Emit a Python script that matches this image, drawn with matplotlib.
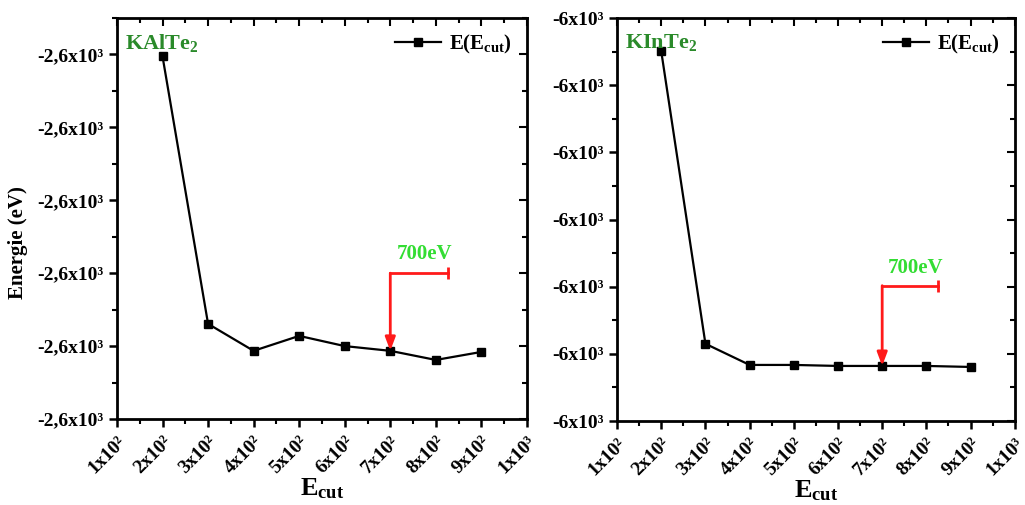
import numpy as np
import matplotlib
matplotlib.use("Agg")
import matplotlib.pyplot as plt
from matplotlib.ticker import MultipleLocator, FuncFormatter

plt.rcParams['font.family'] = ['Liberation Serif', 'DejaVu Serif']
plt.rcParams['font.weight'] = 'bold'
plt.rcParams['axes.labelweight'] = 'bold'
plt.rcParams['mathtext.fontset'] = 'custom'
plt.rcParams['mathtext.rm'] = 'Liberation Serif:weight=bold'
plt.rcParams['mathtext.it'] = 'Liberation Serif:weight=bold'
plt.rcParams['mathtext.bf'] = 'Liberation Serif:weight=bold'
plt.rcParams['mathtext.default'] = 'rm'

# data
ecut = [200, 300, 400, 500, 600, 700, 800, 900]
e_kalte2 = [-2599.005, -2599.739, -2599.813, -2599.772, -2599.800, -2599.813, -2599.838, -2599.816]
e_kinte2 = [-6000.099, -6000.970, -6001.033, -6001.033, -6001.036, -6001.036, -6001.036, -6001.039]
xticks = [100, 200, 300, 400, 500, 600, 700, 800, 900, 1000]
xticklabels = ['1x10²', '2x10²', '3x10²', '4x10²', '5x10²',
               '6x10²', '7x10²', '8x10²', '9x10²', '1x10³']

def fmt_kal(v, pos):
    return ('%.1f' % (v / 1000)).replace('.', ',') + 'x10³'

def fmt_kin(v, pos):
    return '%.0fx10³' % (v / 1000)

fig = plt.figure(figsize=(10.25, 5.05), dpi=100)
ax1 = fig.add_axes([0.1141, 0.1703, 0.400, 0.794])
ax2 = fig.add_axes([0.602, 0.1663, 0.388, 0.798])

red = '#ff1a1a'
lgreen = '#33dd33'
dgreen = '#2a8a2a'

def setup(ax, ylim, ystep, fmt, name, data, arrow_y, text_y):
    ax.plot(ecut, data, color='black', lw=1.6, marker='s', ms=5.5,
            label='E(E$_{\\mathbf{cut}}$)')
    ax.set_xlim(100, 1000)
    ax.set_ylim(*ylim)
    ax.set_xticks(xticks)
    ax.set_xticklabels(xticklabels, rotation=45, fontsize=14, fontweight='bold')
    ax.xaxis.set_minor_locator(MultipleLocator(50))
    ax.yaxis.set_major_locator(MultipleLocator(ystep))
    ax.yaxis.set_minor_locator(MultipleLocator(ystep / 2))
    ax.yaxis.set_major_formatter(FuncFormatter(fmt))
    for lab in ax.get_xticklabels():
        lab.set_ha('right')
        lab.set_rotation_mode('anchor')
    ax.tick_params(which='major', direction='out', length=6, width=1.8, labelsize=14)
    ax.tick_params(which='minor', direction='out', length=3.5, width=1.5)
    ax.tick_params(axis='x', pad=4)
    for lab in ax.get_yticklabels():
        lab.set_fontweight('bold')
    for s in ax.spines.values():
        s.set_linewidth(2)
    top = ax.secondary_xaxis('top')
    top.set_xticks(xticks)
    top.xaxis.set_minor_locator(MultipleLocator(50))
    top.tick_params(which='both', direction='in', labeltop=False, width=1.5)
    top.tick_params(which='major', length=6)
    top.tick_params(which='minor', length=3.5)
    rt = ax.secondary_yaxis('right')
    rt.yaxis.set_major_locator(MultipleLocator(ystep))
    rt.yaxis.set_minor_locator(MultipleLocator(ystep / 2))
    rt.tick_params(which='both', direction='in', labelright=False, width=1.5)
    rt.tick_params(which='major', length=6)
    rt.tick_params(which='minor', length=3.5)
    ax.set_xlabel('E$_{\\mathbf{cut}}$', fontsize=19, labelpad=0)
    ax.text(0.02, 0.965, name, transform=ax.transAxes, color=dgreen,
            fontsize=16, fontweight='bold', ha='left', va='top')
    ax.legend(loc='upper right', frameon=False, prop={'size': 15, 'weight': 'bold'},
              handlelength=2.2, handletextpad=0.4, borderaxespad=0.3)
    # red marker for 700 eV
    y700 = data[ecut.index(700)]
    ax.plot([700, 826], [arrow_y, arrow_y], color=red, lw=2)
    ax.plot([826], [arrow_y], color=red, marker='|', ms=9, mew=2)
    ax.annotate('', xy=(700, y700), xytext=(700, arrow_y),
                arrowprops=dict(arrowstyle='-|>,head_length=0.8,head_width=0.3',
                                color=red, lw=2, shrinkA=0, shrinkB=0))
    ax.text(775, text_y, '700eV', color=lgreen, fontsize=15, fontweight='bold',
            ha='center', va='bottom')

setup(ax1, (-2600.0, -2598.9), 0.2, fmt_kal, 'KAlTe$_2$', e_kalte2, -2599.60, -2599.575)
setup(ax2, (-6001.2, -6000.0), 0.2, fmt_kin, 'KInTe$_2$', e_kinte2, -6000.797, -6000.775)
ax1.set_ylabel('Energie (eV)', fontsize=15, fontweight='bold')
ax1.yaxis.set_label_coords(-0.217, 0.44)

fig.savefig('out.png', dpi=100)
